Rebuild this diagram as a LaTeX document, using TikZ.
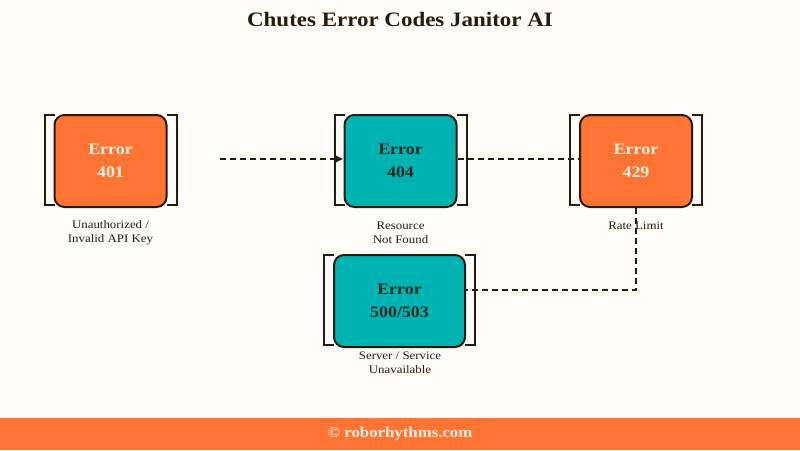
\documentclass[tikz,border=0pt]{standalone}
\usepackage{fontspec}
\setmainfont[FakeStretch=1.12]{Liberation Serif}
\usetikzlibrary{arrows.meta,calc}
\definecolor{bg}{HTML}{FFFCFA}
\definecolor{orng}{HTML}{FF7433}
\definecolor{teal2}{HTML}{00B3B3}
\definecolor{dbrown}{HTML}{2A1A0C}
\definecolor{cream}{HTML}{FFF0E2}
\definecolor{dtext}{HTML}{1E2A22}
\tikzset{
  errbox/.style={draw=dbrown, line width=2pt, rounded corners=10pt, minimum height=92pt,
    minimum width=112pt, align=center, font=\fontsize{16}{23}\selectfont\bfseries, inner sep=0pt},
  hot/.style={errbox, fill=orng, text=cream},
  cool/.style={errbox, fill=teal2, text=dtext},
  brk/.style={draw=dbrown, line width=2pt},
  conn/.style={draw=dbrown, line width=2pt, dash pattern=on 6pt off 4pt},
  lbl/.style={font=\fontsize{11.5}{14}\selectfont, text=dbrown, align=center, inner sep=0pt},
}
\begin{document}
\begin{tikzpicture}[x=1pt,y=-1pt]
\fill[bg] (0,0) rectangle (800,450);
\useasboundingbox (0,0) rectangle (800,450);
\fill[orng] (0,418) rectangle (800,450);
\node[font=\fontsize{20.5}{24}\selectfont\bfseries, text=dbrown] (title) at (400,20) {Chutes Error Codes Janitor AI};
\node[font=\fontsize{15}{18}\selectfont\bfseries, text=cream] (foot) at (400,434) {© roborhythms.com};

% node positions
\coordinate (c401) at (110.5,161);
\coordinate (c404) at (400.5,161);
\coordinate (c429) at (636,161);
\coordinate (c500) at (399.5,301);
\coordinate (start) at (220,159);

% invisible copies so that connectors lie under the boxes
\path (c404) node[cool, draw=none, fill=none, text opacity=0] (g404) {Error\\404};
\path (c429) node[hot, draw=none, fill=none, text opacity=0] (g429) {Error\\429};
\path (c500) node[cool, draw=none, fill=none, text opacity=0, minimum width=131pt] (g500) {Error\\500/503};
\draw[conn] ($(g404.east)+(0,-2)$) -- ($(g429.west)+(0,-2)$);
\draw[conn] (g429.south) |- ($(g500.east)+(0,-11)$);

% boxes
\node[hot] (e401) at (c401) {Error\\401};
\node[cool] (e404) at (c404) {Error\\404};
\node[hot] (e429) at (c429) {Error\\429};
\node[cool, minimum width=131pt] (e500) at (c500) {Error\\500/503};

\draw[conn, -{Latex[length=8pt,width=8pt]}] (start) -- ($(e404.west)+(0,-2)$);

% brackets
\foreach \n in {e401,e404,e429,e500}{
  \draw[brk] ($(\n.north west)+(1,1)$) -- ++(-10,0) -- ++(0,90) -- ++(10,0);
  \draw[brk] ($(\n.north east)+(-1,1)$) -- ++(10,0) -- ++(0,90) -- ++(-10,0);
}

% labels
\node[lbl] (l401) at (110.5,233) {Unauthorized /\\Invalid API Key};
\node[lbl] (l404) at (400.5,233) {Resource\\Not Found};
\node[lbl] (l429) at (636,226) {Rate Limit};
\node[lbl] (l500) at (400,363) {Server / Service\\Unavailable};
\end{tikzpicture}
\end{document}
